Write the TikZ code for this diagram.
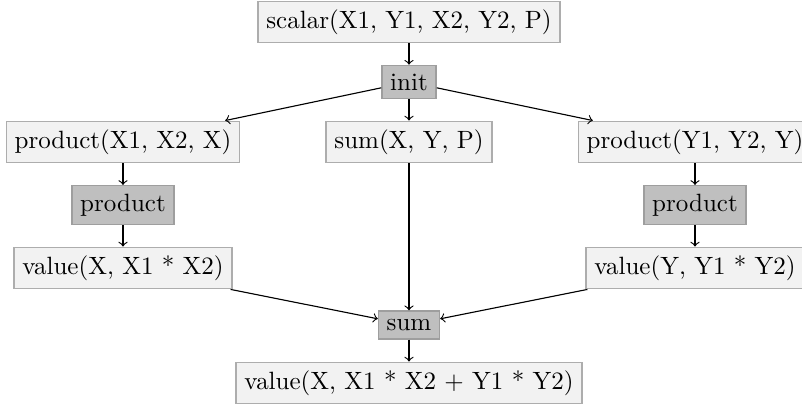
\documentclass[tikz,border=0pt]{standalone}
\begin{document}
\begin{tikzpicture}[x=0.4pt,y=-0.4pt,
  lightbox/.style={draw=black!32,fill=black!5,inner sep=3.33pt,line width=0.5pt},
  darkbox/.style={draw=black!38,fill=black!25,inner sep=3.33pt,line width=0.5pt},
  conn/.style={->,line width=0.45pt}]
\useasboundingbox (0,0) rectangle (802,405);
\node[lightbox] (scalar) at (409,22) {scalar(X1, Y1, X2, Y2, P)};
\node[darkbox] (init) at (409,82) {init};
\node[lightbox] (px) at (123,142) {product(X1, X2, X)};
\node[lightbox] (sxyp) at (409,142) {sum(X, Y, P)};
\node[lightbox] (py) at (695,142) {product(Y1, Y2, Y)};
\node[darkbox] (prodl) at (123,205) {product};
\node[darkbox] (prodr) at (695,205) {product};
\node[lightbox] (valx) at (123,268) {value(X, X1 * X2)};
\node[lightbox] (valy) at (695,268) {value(Y, Y1 * Y2)};
\node[darkbox] (sum) at (409,325) {sum};
\node[lightbox] (valf) at (409,383) {value(X, X1 * X2 + Y1 * Y2)};
\draw[conn] (scalar) -- (init);
\draw[conn] (init) -- (px);
\draw[conn] (init) -- (sxyp);
\draw[conn] (init) -- (py);
\draw[conn] (px) -- (prodl);
\draw[conn] (prodl) -- (valx);
\draw[conn] (py) -- (prodr);
\draw[conn] (prodr) -- (valy);
\draw[conn] (valx) -- (sum);
\draw[conn] (sxyp) -- (sum);
\draw[conn] (valy) -- (sum);
\draw[conn] (sum) -- (valf);
\end{tikzpicture}
\end{document}
